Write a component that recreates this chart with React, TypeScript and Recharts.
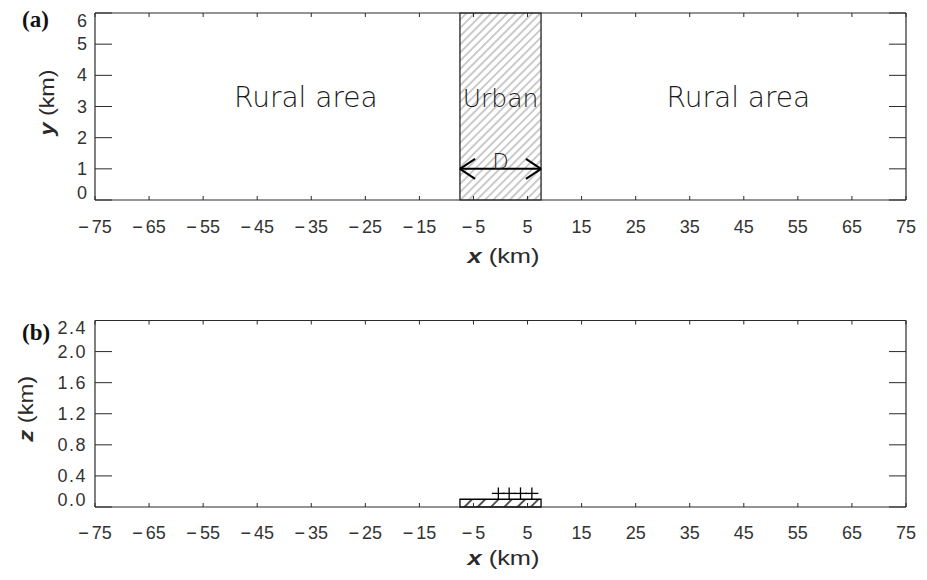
import React from 'react';
import { ComposedChart, XAxis, YAxis, ReferenceArea, ReferenceLine, ReferenceDot } from 'recharts';

// ---- data ----
const xTicks = [-75, -65, -55, -45, -35, -25, -15, -5, 5, 15, 25, 35, 45, 55, 65, 75];
const xDomain: [number, number] = [-75, 75];
const yTicksA = [0, 1, 2, 3, 4, 5, 6];
const yDomainA: [number, number] = [0, 6];
const zTicksB = [0, 0.4, 0.8, 1.2, 1.6, 2.0, 2.4];
const zDomainB: [number, number] = [0, 2.4];
const urbanEdges = [-7.5, 7.5];
const buildingHeight = 0.1;
const sensorX = [-0.4, 1.6, 3.7, 5.8];
const sensorZ = 0.175;
const arrowY = 1;
const regionLabels = [
  { x: -36, y: 3.3, text: 'Rural area', size: 28 },
  { x: 0, y: 3.25, text: 'Urban', size: 25 },
  { x: 44, y: 3.3, text: 'Rural area', size: 28 },
];

const axisRows = xTicks.map((x) => ({ x }));

const SANS = "'Liberation Sans', Arial, sans-serif";
const THIN = "'DejaVu Sans', sans-serif";
const INK = '#2a2a2a';
const LABEL = '#333';

const leftTick = (fmt: (v: number) => string, minV: number, maxV: number, ls: number) => (props: any) => {
  const { x, y, payload } = props;
  const v = payload.value;
  const dy = v === maxV ? 7.5 : v === minV ? -7.5 : 0;
  return (
    <g>
      <line x1={x} y1={y} x2={x + 17} y2={y} stroke={INK} strokeWidth={1} />
      <text x={x - 8} y={y + dy} textAnchor="end" dominantBaseline="central" fontSize={18} letterSpacing={ls} fontFamily={SANS} fill={LABEL}>
        {fmt(v)}
      </text>
    </g>
  );
};

const rightTick = (props: any) => {
  const { x, y } = props;
  return <line x1={x} y1={y} x2={x - 17} y2={y} stroke={INK} strokeWidth={1} />;
};

const bottomTick = (dyLabel: number) => (props: any) => {
  const { x, y, payload } = props;
  const v = payload.value as number;
  return (
    <g>
      <line x1={x} y1={y} x2={x} y2={y - 4} stroke={INK} strokeWidth={1} />
      <text x={x} y={y + dyLabel} textAnchor="middle" dominantBaseline="central" fontSize={18} fontFamily={SANS} fill={LABEL}>
        {v < 0 ? (
          <>
            <tspan>{'\u2212'}</tspan>
            <tspan dx={3}>{Math.abs(v)}</tspan>
          </>
        ) : (
          String(v)
        )}
      </text>
    </g>
  );
};

const topTick = (props: any) => {
  const { x, y } = props;
  return <line x1={x} y1={y} x2={x} y2={y + 4} stroke={INK} strokeWidth={1} />;
};

const xTitle = (dy: number) => (props: any) => {
  const vb = props.viewBox;
  return (
    <text x={vb.x + vb.width / 2 + 3} y={vb.y + dy} textAnchor="middle" dominantBaseline="central" fontSize={20} fontFamily={SANS} fill={INK} textLength={72} lengthAdjust="spacingAndGlyphs">
      <tspan fontWeight="bold" fontStyle="italic">x</tspan>
      <tspan> (km)</tspan>
    </text>
  );
};

const yTitle = (name: string, cx: number, cyOff: number) => (props: any) => {
  const vb = props.viewBox;
  const cx2 = vb.x + cx;
  const cy = vb.y + vb.height / 2 + cyOff;
  return (
    <text x={cx2} y={cy} transform={`rotate(-90 ${cx2} ${cy})`} textAnchor="middle" dominantBaseline="central" fontSize={20} fontFamily={SANS} fill={INK} textLength={66} lengthAdjust="spacingAndGlyphs">
      <tspan fontWeight="bold" fontStyle="italic">{name}</tspan>
      <tspan> (km)</tspan>
    </text>
  );
};

const textShape = (text: string, size: number, baseline: string = 'central', dy = 0) => (p: any) => (
  <text x={p.cx} y={p.cy + dy} textAnchor="middle" dominantBaseline={baseline} fontSize={size} fontFamily={THIN} fontWeight={200} fill="#1a1a1a">
    {text}
  </text>
);

const crossShape = (p: any) => (
  <g>
    <line x1={p.cx - 6.5} y1={p.cy} x2={p.cx + 6.5} y2={p.cy} stroke="#000" strokeWidth={1.3} />
    <line x1={p.cx} y1={p.cy - 6} x2={p.cx} y2={p.cy + 6} stroke="#000" strokeWidth={1.3} />
  </g>
);

const axisLine = { stroke: INK, strokeWidth: 1.2 };

const ARM_DX = 2.8;
const ARM_DY = 0.32;

export default function App() {
  const [x0, x1] = urbanEdges;
  return (
    <div style={{ position: 'absolute', left: 0, top: 0, width: 927, height: 580, background: '#fff' }}>
      <div style={{ position: 'absolute', left: 0, top: 0 }}>
        <ComposedChart width={927} height={290} data={axisRows} margin={{ top: 12, right: 20, bottom: 0, left: 0 }}>
          <defs>
            <pattern id="hatchA" patternUnits="userSpaceOnUse" width={5.8} height={5.8} patternTransform="rotate(45)">
              <line x1={2.9} y1={0} x2={2.9} y2={5.8} stroke="#8c8c8c" strokeWidth={0.9} />
            </pattern>
          </defs>
          <XAxis xAxisId="b" dataKey="x" type="number" domain={xDomain} ticks={xTicks} interval={0} orientation="bottom" height={90}
            tickSize={0} tickMargin={0} tickLine={false} axisLine={axisLine} tick={bottomTick(27)} allowDataOverflow
            label={{ content: xTitle(56) }} />
          <XAxis xAxisId="t" dataKey="x" type="number" domain={xDomain} ticks={xTicks} interval={0} orientation="top" height={1}
            tickSize={0} tickMargin={0} tickLine={false} axisLine={axisLine} tick={topTick} allowDataOverflow />
          <YAxis yAxisId="l" type="number" domain={yDomainA} ticks={yTicksA} interval={0} width={95}
            tickSize={0} tickMargin={0} tickLine={false} axisLine={axisLine} tick={leftTick((v) => String(v), 0, 6, 0)} allowDataOverflow
            label={{ content: yTitle('y', 47, -4) }} />
          <YAxis yAxisId="r" orientation="right" type="number" domain={yDomainA} ticks={yTicksA} interval={0} width={1}
            tickSize={0} tickMargin={0} tickLine={false} axisLine={axisLine} tick={rightTick} allowDataOverflow />
          <ReferenceArea xAxisId="b" yAxisId="l" x1={x0} x2={x1} y1={yDomainA[0]} y2={yDomainA[1]}
            fill="url(#hatchA)" fillOpacity={1} stroke="#111" strokeWidth={1.2} />
          <ReferenceLine xAxisId="b" yAxisId="l" segment={[{ x: x0, y: arrowY }, { x: x1, y: arrowY }]} stroke="#000" strokeWidth={2} />
          <ReferenceLine xAxisId="b" yAxisId="l" segment={[{ x: x0, y: arrowY }, { x: x0 + ARM_DX, y: arrowY + ARM_DY }]} stroke="#000" strokeWidth={2} />
          <ReferenceLine xAxisId="b" yAxisId="l" segment={[{ x: x0, y: arrowY }, { x: x0 + ARM_DX, y: arrowY - ARM_DY }]} stroke="#000" strokeWidth={2} />
          <ReferenceLine xAxisId="b" yAxisId="l" segment={[{ x: x1, y: arrowY }, { x: x1 - ARM_DX, y: arrowY + ARM_DY }]} stroke="#000" strokeWidth={2} />
          <ReferenceLine xAxisId="b" yAxisId="l" segment={[{ x: x1, y: arrowY }, { x: x1 - ARM_DX, y: arrowY - ARM_DY }]} stroke="#000" strokeWidth={2} />
          <ReferenceDot xAxisId="b" yAxisId="l" x={0} y={arrowY} r={1} shape={textShape('D', 21, 'alphabetic', 0)} />
          {regionLabels.map((l, i) => (
            <ReferenceDot key={i} xAxisId="b" yAxisId="l" x={l.x} y={l.y} r={1} shape={textShape(l.text, l.size)} />
          ))}
        </ComposedChart>
      </div>
      <div style={{ position: 'absolute', left: 0, top: 300 }}>
        <ComposedChart width={927} height={280} data={axisRows} margin={{ top: 19.5, right: 20, bottom: 0, left: 0 }}>
          <defs>
            <pattern id="hatchB" patternUnits="userSpaceOnUse" width={9.4} height={9.4} patternTransform="rotate(45)">
              <line x1={4.7} y1={0} x2={4.7} y2={9.4} stroke="#000" strokeWidth={1.3} />
            </pattern>
          </defs>
          <XAxis xAxisId="b" dataKey="x" type="number" domain={xDomain} ticks={xTicks} interval={0} orientation="bottom" height={73}
            tickSize={0} tickMargin={0} tickLine={false} axisLine={axisLine} tick={bottomTick(26)} allowDataOverflow
            label={{ content: xTitle(51) }} />
          <XAxis xAxisId="t" dataKey="x" type="number" domain={xDomain} ticks={xTicks} interval={0} orientation="top" height={1}
            tickSize={0} tickMargin={0} tickLine={false} axisLine={axisLine} tick={topTick} allowDataOverflow />
          <YAxis yAxisId="l" type="number" domain={zDomainB} ticks={zTicksB} interval={0} width={95}
            tickSize={0} tickMargin={0} tickLine={false} axisLine={axisLine} tick={leftTick((v) => v.toFixed(1), 0, 2.4, 1.5)} allowDataOverflow
            label={{ content: yTitle('z', 26, -5) }} />
          <YAxis yAxisId="r" orientation="right" type="number" domain={zDomainB} ticks={zTicksB} interval={0} width={1}
            tickSize={0} tickMargin={0} tickLine={false} axisLine={axisLine} tick={rightTick} allowDataOverflow />
          <ReferenceArea xAxisId="b" yAxisId="l" x1={x0} x2={x1} y1={0} y2={buildingHeight}
            fill="url(#hatchB)" fillOpacity={1} stroke="#000" strokeWidth={1.3} />
          {sensorX.map((sx, i) => (
            <ReferenceDot key={i} xAxisId="b" yAxisId="l" x={sx} y={sensorZ} r={1} shape={crossShape} />
          ))}
        </ComposedChart>
      </div>
      <svg width={927} height={580} style={{ position: 'absolute', left: 0, top: 0, pointerEvents: 'none' }}>
        <text x={22} y={27} fontFamily="'Liberation Serif', serif" fontWeight="bold" fontSize={23} fill="#111">(a)</text>
        <text x={22} y={340} fontFamily="'Liberation Serif', serif" fontWeight="bold" fontSize={23} fill="#111">(b)</text>
      </svg>
    </div>
  );
}
